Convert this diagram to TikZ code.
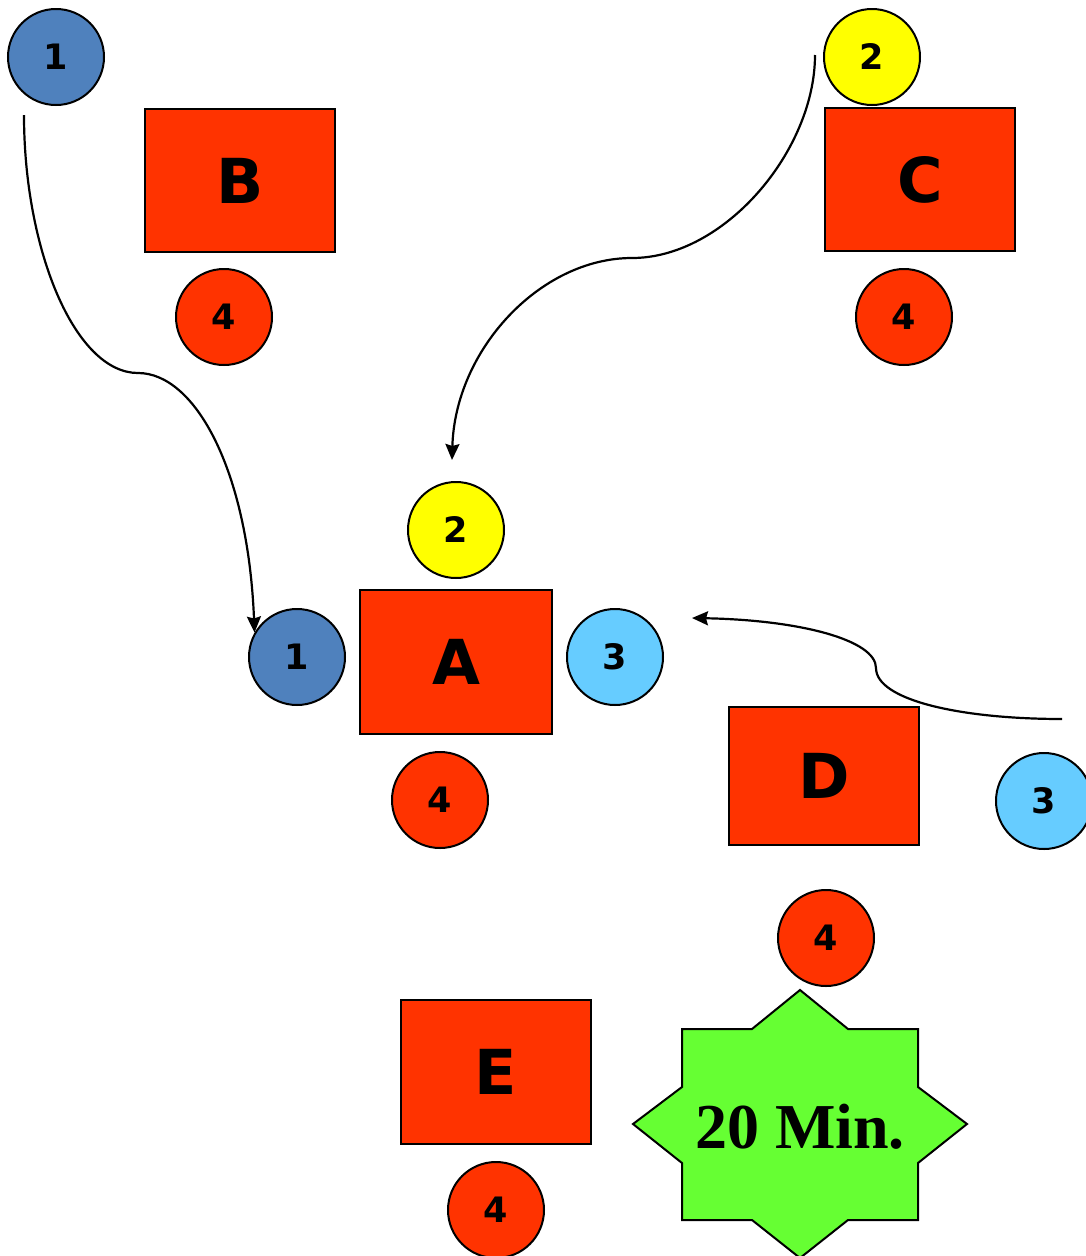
\documentclass[tikz,border=0pt]{standalone}
\usepackage{fontspec}
\newfontfamily\lblfont{DejaVu Sans}
\newfontfamily\starfont{Liberation Serif}
\usetikzlibrary{arrows.meta}
\definecolor{cblue}{HTML}{4F81BD}
\definecolor{cred}{HTML}{FF3300}
\definecolor{cyell}{HTML}{FFFF00}
\definecolor{clight}{HTML}{66CCFF}
\definecolor{cgreen}{HTML}{66FF33}
\tikzset{
  dot/.style={circle, draw=black, line width=2pt, minimum size=96pt, inner sep=0pt,
    font=\lblfont\bfseries\fontsize{35}{35}\selectfont},
  table/.style={rectangle, draw=black, line width=2pt, fill=cred, inner sep=0pt,
    minimum width=190pt, font=\lblfont\bfseries\fontsize{62}{62}\selectfont},
  conn/.style={line width=2.2pt, -{Stealth[length=16pt,width=14pt,inset=2pt]}},
}
\begin{document}
\begin{tikzpicture}[x=1pt,y=-1pt]
\useasboundingbox (0,0) rectangle (1086,1256);
% tables
\node[table, minimum height=143pt] (B) at (240,180.5) {B};
\node[table, minimum height=143pt] (C) at (920,179.5) {C};
\node[table, minimum width=192pt, minimum height=144pt] (A) at (456,662) {A};
\node[table, minimum height=138pt] (D) at (824,776) {D};
\node[table, minimum height=144pt] (E) at (496,1072) {E};
% circles
\node[dot, fill=cblue] (c1t) at (56,57) {1};
\node[dot, fill=cred] (c4B) at (224,317) {4};
\node[dot, fill=cyell] (c2t) at (872,57) {2};
\node[dot, fill=cred] (c4C) at (904,317) {4};
\node[dot, fill=cyell] (c2m) at (456,530) {2};
\node[dot, fill=cblue] (c1m) at (297,657) {1};
\node[dot, fill=clight] (c3m) at (615,657) {3};
\node[dot, fill=cred] (c4A) at (440,800) {4};
\node[dot, fill=clight] (c3r) at (1044,801) {3};
\node[dot, fill=cred] (c4D) at (826,938) {4};
\node[dot, fill=cred] (c4E) at (496,1210) {4};
% star
\draw[line width=2pt, fill=cgreen]
  (682,1029) -- (752,1029) -- (800,990) -- (848,1029) -- (918,1029) -- (918,1087)
  -- (967,1124) -- (918,1163) -- (918,1220) -- (848,1220) -- (800,1258) -- (752,1220)
  -- (682,1220) -- (682,1163) -- (633,1124) -- (682,1087) -- cycle;
\node[font=\starfont\bfseries\fontsize{64}{64}\selectfont, inner sep=0pt] (star) at (800,1127) {20 Min.};
% connectors
\coordinate (s1) at (24,115);
\coordinate (s2) at (815,55);
\coordinate (e2) at (452,460);
\coordinate (s3) at (1062,719);
\coordinate (e3) at (692,618);
\draw[conn] (s1) .. controls (24,250) and (75,373) .. (138,373)
  .. controls (195,373) and (248,470) .. (c1m.150);
\draw[conn] (s2) .. controls (815,150) and (725,258) .. (632,258)
  .. controls (540,258) and (455,350) .. (e2);
\draw[conn] (s3) .. controls (960,719) and (876,700) .. (876,668)
  .. controls (876,640) and (800,620) .. (e3);
\end{tikzpicture}
\end{document}
